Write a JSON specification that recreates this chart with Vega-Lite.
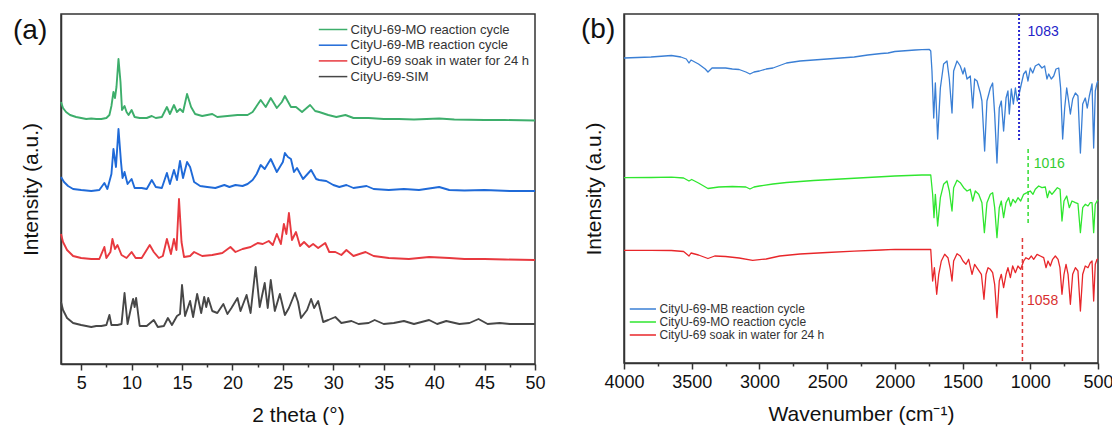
{
"$schema": "https://vega.github.io/schema/vega-lite/v6.json",
"padding": {"left": 12, "top": 12, "right": 5, "bottom": 0},
"spacing": 34,
"resolve": {"scale": {"color": "independent"}, "legend": {"color": "independent"}},
"config": {
  "font": "Liberation Sans",
  "view": {"stroke": "#333333", "strokeWidth": 1.5},
  "axis": {"domainColor": "#333333", "domainWidth": 1.5, "tickColor": "#333333", "tickWidth": 1.5, "labelColor": "#111111", "titleColor": "#111111", "labelFontSize": 18, "titleFontSize": 21, "titleFontWeight": "normal", "grid": false, "labelPadding": 4, "labelFlush": false, "labelOverlap": false},
  "legend": {"labelColor": "#333333", "padding": 0, "symbolStrokeWidth": 1.5, "title": null, "labelLimit": 400},
  "title": {"fontWeight": "normal", "fontSize": 28, "color": "#111111"}
},
"hconcat": [
{
  "width": 474, "height": 350,
  "title": {"text": "(a)", "anchor": "start", "frame": "group", "orient": "top", "baseline": "top", "offset": -28, "dx": -48, "dy": 3},
  "encoding": {
    "x": {"field": "t", "type": "quantitative", "scale": {"domain": [3, 50], "nice": false, "zero": false},
      "axis": {"title": "2 theta (°)", "titlePadding": 12, "values": [5,7.5,10,12.5,15,17.5,20,22.5,25,27.5,30,32.5,35,37.5,40,42.5,45,47.5,50],
        "labelExpr": "datum.value % 5 === 0 ? datum.label : ''",
        "tickSize": {"condition": {"test": "datum.value % 5 !== 0", "value": 3}, "value": 6}}},
    "y": {"field": "I", "type": "quantitative", "scale": {"domain": [0, 350], "nice": false, "zero": false},
      "axis": {"title": "Intensity (a.u.)", "labels": false, "ticks": false, "titlePadding": 20}}
  },
  "layer": [
    {"data": {"values": [{"t":3,"I":262},{"t":3.2,"I":256},{"t":3.5,"I":252},{"t":3.9,"I":249},{"t":4.5,"I":247},{"t":5,"I":246},{"t":5.5,"I":245},{"t":6,"I":245.5},{"t":6.5,"I":245},{"t":7,"I":245},{"t":7.5,"I":246},{"t":7.8,"I":249},{"t":8,"I":258},{"t":8.2,"I":272},{"t":8.35,"I":266},{"t":8.5,"I":277},{"t":8.7,"I":305},{"t":8.9,"I":282},{"t":9.05,"I":254},{"t":9.3,"I":258},{"t":9.5,"I":252},{"t":9.7,"I":249},{"t":10,"I":254},{"t":10.3,"I":247},{"t":10.8,"I":246},{"t":11.5,"I":246},{"t":12,"I":248},{"t":12.4,"I":246},{"t":13,"I":247},{"t":13.5,"I":257},{"t":13.8,"I":250},{"t":14.2,"I":259},{"t":14.5,"I":252},{"t":14.8,"I":255},{"t":15.1,"I":252},{"t":15.5,"I":270},{"t":15.9,"I":257},{"t":16.3,"I":250},{"t":17,"I":248},{"t":18,"I":250},{"t":18.5,"I":247},{"t":19.5,"I":248},{"t":20.5,"I":249},{"t":21.5,"I":249},{"t":22,"I":252},{"t":22.4,"I":258},{"t":22.8,"I":264},{"t":23.3,"I":257},{"t":23.8,"I":266},{"t":24.4,"I":256},{"t":24.9,"I":262},{"t":25.2,"I":268},{"t":25.8,"I":257},{"t":26.3,"I":257},{"t":26.9,"I":252},{"t":27.7,"I":259},{"t":28.2,"I":253},{"t":28.6,"I":252},{"t":29.5,"I":249},{"t":30.3,"I":247},{"t":31.2,"I":249},{"t":32,"I":246},{"t":33.5,"I":246},{"t":35,"I":245},{"t":36.5,"I":245},{"t":38,"I":244.5},{"t":40.5,"I":245.5},{"t":42,"I":244.5},{"t":45,"I":244},{"t":47,"I":244},{"t":50,"I":243.5}]},
     "mark": {"type": "line", "strokeWidth": 1.9, "strokeJoin": "round"},
     "encoding": {"color": {"datum": "CityU-69-MO reaction cycle", "type": "nominal",
        "scale": {"domain": ["CityU-69-MO reaction cycle", "CityU-69-MB reaction cycle", "CityU-69 soak in water for 24 h", "CityU-69-SIM"], "range": ["#3dae6b", "#1f6ad8", "#e8393f", "#474747"]},
        "legend": {"orient": "none", "legendX": 257, "legendY": 9, "labelFontSize": 13, "symbolType": "M-1,0H4", "symbolSize": 130, "labelOffset": 19.6, "rowPadding": 1.7}}}},
    {"data": {"values": [{"t":3,"I":187},{"t":3.3,"I":182},{"t":3.7,"I":178},{"t":4.2,"I":175},{"t":5,"I":174},{"t":6,"I":173},{"t":6.8,"I":174},{"t":7.3,"I":181},{"t":7.6,"I":175},{"t":8,"I":190},{"t":8.2,"I":215},{"t":8.45,"I":197},{"t":8.7,"I":235},{"t":8.95,"I":202},{"t":9.1,"I":186},{"t":9.3,"I":192},{"t":9.6,"I":180},{"t":10,"I":185},{"t":10.3,"I":176},{"t":11,"I":176},{"t":11.5,"I":175},{"t":12,"I":184},{"t":12.4,"I":177},{"t":13,"I":176},{"t":13.5,"I":191},{"t":13.8,"I":180},{"t":14.2,"I":194},{"t":14.5,"I":184},{"t":14.8,"I":203},{"t":15.1,"I":186},{"t":15.5,"I":202},{"t":15.8,"I":197},{"t":16.2,"I":182},{"t":16.8,"I":178},{"t":17.5,"I":177},{"t":18.3,"I":176},{"t":19.2,"I":179},{"t":19.7,"I":177},{"t":20.3,"I":179},{"t":21,"I":178},{"t":21.5,"I":180},{"t":22,"I":184},{"t":22.4,"I":190},{"t":22.8,"I":199},{"t":23.2,"I":195},{"t":23.8,"I":205},{"t":24.4,"I":192},{"t":25,"I":202},{"t":25.2,"I":211},{"t":25.5,"I":207},{"t":25.8,"I":205},{"t":26.1,"I":192},{"t":26.4,"I":196},{"t":27,"I":185},{"t":27.8,"I":194},{"t":28.3,"I":185},{"t":28.6,"I":184},{"t":29.3,"I":183},{"t":30,"I":179},{"t":30.6,"I":177},{"t":31.3,"I":179},{"t":32,"I":176},{"t":33.3,"I":178},{"t":34,"I":175},{"t":35.5,"I":174},{"t":37,"I":175},{"t":38.5,"I":174},{"t":40.5,"I":177},{"t":41.5,"I":174},{"t":43,"I":173.5},{"t":45,"I":174},{"t":47.5,"I":173},{"t":50,"I":173}]},
     "mark": {"type": "line", "strokeWidth": 1.9, "strokeJoin": "round"},
     "encoding": {"color": {"datum": "CityU-69-MB reaction cycle", "type": "nominal"}}},
    {"data": {"values": [{"t":3,"I":130},{"t":3.2,"I":122},{"t":3.6,"I":114},{"t":4.2,"I":108},{"t":5,"I":106},{"t":6,"I":105},{"t":6.8,"I":105},{"t":7.3,"I":117},{"t":7.5,"I":106},{"t":7.9,"I":112},{"t":8.1,"I":125},{"t":8.35,"I":115},{"t":8.6,"I":119},{"t":9,"I":109},{"t":9.5,"I":106},{"t":10,"I":112},{"t":10.4,"I":106},{"t":11,"I":106},{"t":11.8,"I":119},{"t":12.2,"I":112},{"t":12.7,"I":106},{"t":13.1,"I":108},{"t":13.5,"I":125},{"t":13.9,"I":110},{"t":14.2,"I":125},{"t":14.45,"I":114},{"t":14.7,"I":165},{"t":14.95,"I":122},{"t":15.2,"I":107},{"t":15.8,"I":108},{"t":16.2,"I":112},{"t":17,"I":108},{"t":18,"I":109},{"t":19,"I":111},{"t":19.8,"I":117},{"t":20.3,"I":112},{"t":21,"I":115},{"t":21.8,"I":117},{"t":22.5,"I":121},{"t":23,"I":120},{"t":23.6,"I":123},{"t":24,"I":119},{"t":24.4,"I":130},{"t":24.8,"I":120},{"t":25.1,"I":140},{"t":25.35,"I":130},{"t":25.6,"I":151},{"t":25.9,"I":124},{"t":26.3,"I":132},{"t":26.7,"I":118},{"t":27.1,"I":122},{"t":27.6,"I":117},{"t":28,"I":120},{"t":28.5,"I":116},{"t":29.2,"I":121},{"t":29.6,"I":112},{"t":30.2,"I":112},{"t":30.8,"I":109},{"t":31.3,"I":114},{"t":32,"I":108},{"t":33.2,"I":112},{"t":34,"I":108},{"t":35.5,"I":106},{"t":37.5,"I":105},{"t":39.5,"I":107},{"t":41.5,"I":106},{"t":43,"I":105},{"t":45,"I":105},{"t":47,"I":104.5},{"t":50,"I":104}]},
     "mark": {"type": "line", "strokeWidth": 1.9, "strokeJoin": "round"},
     "encoding": {"color": {"datum": "CityU-69 soak in water for 24 h", "type": "nominal"}}},
    {"data": {"values": [{"t":3,"I":62},{"t":3.2,"I":54},{"t":3.6,"I":46},{"t":4.2,"I":41},{"t":5,"I":39},{"t":5.5,"I":38},{"t":6,"I":37},{"t":6.5,"I":38},{"t":7,"I":38},{"t":7.5,"I":39},{"t":7.8,"I":49},{"t":8,"I":39},{"t":8.6,"I":39},{"t":9,"I":40},{"t":9.3,"I":71},{"t":9.6,"I":40},{"t":10,"I":59},{"t":10.15,"I":65},{"t":10.3,"I":57},{"t":10.45,"I":66},{"t":10.8,"I":38},{"t":11.5,"I":38},{"t":12.2,"I":44},{"t":12.6,"I":37},{"t":13.2,"I":38},{"t":13.6,"I":46},{"t":14,"I":39},{"t":14.5,"I":48},{"t":14.8,"I":50},{"t":15,"I":79},{"t":15.3,"I":48},{"t":15.8,"I":63},{"t":16.1,"I":47},{"t":16.5,"I":70},{"t":16.9,"I":51},{"t":17.2,"I":67},{"t":17.4,"I":57},{"t":17.6,"I":66},{"t":18,"I":53},{"t":18.5,"I":51},{"t":19.1,"I":60},{"t":19.5,"I":50},{"t":19.9,"I":56},{"t":20.5,"I":66},{"t":20.8,"I":53},{"t":21.4,"I":69},{"t":21.8,"I":51},{"t":22.3,"I":97},{"t":22.7,"I":57},{"t":23.2,"I":81},{"t":23.5,"I":56},{"t":23.8,"I":84},{"t":24.2,"I":53},{"t":24.7,"I":70},{"t":25.2,"I":49},{"t":25.6,"I":56},{"t":26.2,"I":71},{"t":26.5,"I":62},{"t":26.8,"I":46},{"t":27.4,"I":54},{"t":27.8,"I":65},{"t":28.1,"I":56},{"t":28.5,"I":63},{"t":29,"I":42},{"t":29.5,"I":44},{"t":30.2,"I":47},{"t":30.8,"I":41},{"t":31.8,"I":43},{"t":32.5,"I":40},{"t":33.5,"I":41},{"t":34.1,"I":44},{"t":35,"I":40},{"t":36,"I":41},{"t":37,"I":43},{"t":38,"I":40},{"t":39.5,"I":44},{"t":40.3,"I":40},{"t":41.2,"I":43},{"t":42.5,"I":40},{"t":43.5,"I":41},{"t":44.4,"I":45},{"t":45.3,"I":40},{"t":46.5,"I":41},{"t":47.5,"I":40},{"t":49,"I":40},{"t":50,"I":40}]},
     "mark": {"type": "line", "strokeWidth": 1.9, "strokeJoin": "round"},
     "encoding": {"color": {"datum": "CityU-69-SIM", "type": "nominal"}}}
  ]
},
{
  "width": 474, "height": 349,
  "title": {"text": "(b)", "anchor": "start", "frame": "group", "orient": "top", "baseline": "top", "offset": -28, "dx": -43, "dy": 3},
  "encoding": {
    "x": {"field": "w", "type": "quantitative", "scale": {"domain": [500, 4000], "nice": false, "zero": false, "reverse": true},
      "axis": {"title": "Wavenumber (cm⁻¹)", "titlePadding": 12, "format": "d", "values": [500,750,1000,1250,1500,1750,2000,2250,2500,2750,3000,3250,3500,3750,4000],
        "labelExpr": "datum.value % 500 === 0 ? datum.label : ''",
        "tickSize": {"condition": {"test": "datum.value % 500 !== 0", "value": 3}, "value": 6}}},
    "y": {"field": "I", "type": "quantitative", "scale": {"domain": [0, 349], "nice": false, "zero": false},
      "axis": {"title": "Intensity (a.u.)", "labels": false, "ticks": false, "titlePadding": 20}}
  },
  "layer": [
    {"data": {"values": [{"w":4000,"I":305},{"w":3900,"I":305.5},{"w":3800,"I":306},{"w":3700,"I":307},{"w":3650,"I":307.5},{"w":3580,"I":306},{"w":3540,"I":304},{"w":3520,"I":300},{"w":3505,"I":303},{"w":3450,"I":299},{"w":3400,"I":294},{"w":3380,"I":291},{"w":3350,"I":295},{"w":3300,"I":295},{"w":3250,"I":295},{"w":3200,"I":294},{"w":3150,"I":293.5},{"w":3100,"I":291},{"w":3070,"I":289},{"w":3040,"I":291},{"w":3000,"I":292},{"w":2950,"I":294},{"w":2900,"I":295},{"w":2800,"I":300},{"w":2700,"I":302},{"w":2600,"I":303},{"w":2500,"I":304},{"w":2400,"I":305},{"w":2300,"I":306},{"w":2200,"I":308},{"w":2100,"I":309.5},{"w":2050,"I":310},{"w":2000,"I":311.5},{"w":1950,"I":312},{"w":1900,"I":312.5},{"w":1850,"I":313},{"w":1800,"I":313.3},{"w":1745,"I":313.5},{"w":1735,"I":312},{"w":1726,"I":292},{"w":1713,"I":245},{"w":1701,"I":280},{"w":1684,"I":224},{"w":1664,"I":275},{"w":1640,"I":299},{"w":1615,"I":302},{"w":1598,"I":284},{"w":1578,"I":250},{"w":1566,"I":292},{"w":1541,"I":302},{"w":1517,"I":297},{"w":1497,"I":289},{"w":1485,"I":295},{"w":1467,"I":284},{"w":1443,"I":287},{"w":1425,"I":255},{"w":1411,"I":284},{"w":1393,"I":282},{"w":1369,"I":270},{"w":1357,"I":262},{"w":1337,"I":212},{"w":1320,"I":262},{"w":1295,"I":275},{"w":1278,"I":280},{"w":1263,"I":249},{"w":1246,"I":200},{"w":1229,"I":255},{"w":1214,"I":262},{"w":1197,"I":232},{"w":1179,"I":265},{"w":1165,"I":272},{"w":1155,"I":249},{"w":1140,"I":274},{"w":1125,"I":259},{"w":1110,"I":275},{"w":1096,"I":262},{"w":1081,"I":270},{"w":1066,"I":279},{"w":1049,"I":289},{"w":1032,"I":292},{"w":1017,"I":282},{"w":1000,"I":295},{"w":982,"I":290},{"w":963,"I":297},{"w":938,"I":299},{"w":914,"I":295},{"w":894,"I":297},{"w":877,"I":284},{"w":864,"I":289},{"w":845,"I":284},{"w":827,"I":287},{"w":810,"I":294},{"w":790,"I":295},{"w":776,"I":275},{"w":761,"I":224},{"w":746,"I":255},{"w":731,"I":275},{"w":717,"I":262},{"w":704,"I":249},{"w":687,"I":264},{"w":667,"I":270},{"w":648,"I":267},{"w":630,"I":210},{"w":613,"I":259},{"w":594,"I":265},{"w":579,"I":255},{"w":564,"I":267},{"w":544,"I":279},{"w":532,"I":215},{"w":520,"I":272},{"w":507,"I":280},{"w":500,"I":282}]},
     "mark": {"type": "line", "strokeWidth": 1.3, "strokeJoin": "round"},
     "encoding": {"color": {"datum": "CityU-69-MB reaction cycle", "type": "nominal",
        "scale": {"domain": ["CityU-69-MB reaction cycle", "CityU-69-MO reaction cycle", "CityU-69 soak in water for 24 h"], "range": ["#3a7fd5", "#2fe62f", "#e8262a"]},
        "legend": {"orient": "none", "legendX": 5, "legendY": 289, "labelFontSize": 12, "symbolType": "M-1,0H4", "symbolSize": 110, "labelOffset": 18.5, "rowPadding": 1}}}},
    {"data": {"values": [{"w":4000,"I":185.3},{"w":3800,"I":185.5},{"w":3650,"I":185.8},{"w":3560,"I":185},{"w":3520,"I":182},{"w":3500,"I":183.5},{"w":3450,"I":180},{"w":3380,"I":174.5},{"w":3300,"I":176},{"w":3200,"I":176.5},{"w":3100,"I":176},{"w":3070,"I":174},{"w":3040,"I":176},{"w":3000,"I":177},{"w":2900,"I":179},{"w":2800,"I":180.5},{"w":2600,"I":182.5},{"w":2400,"I":184},{"w":2200,"I":185.5},{"w":2000,"I":187},{"w":1900,"I":187.5},{"w":1800,"I":188},{"w":1735,"I":188},{"w":1721,"I":168.7},{"w":1711,"I":145.3},{"w":1701,"I":168.7},{"w":1684,"I":137},{"w":1664,"I":165.3},{"w":1640,"I":178.7},{"w":1615,"I":182},{"w":1598,"I":172},{"w":1578,"I":152},{"w":1566,"I":175.3},{"w":1541,"I":182.7},{"w":1517,"I":180.3},{"w":1492,"I":175.3},{"w":1467,"I":172},{"w":1443,"I":173.7},{"w":1425,"I":162},{"w":1406,"I":172},{"w":1381,"I":168.7},{"w":1357,"I":160.3},{"w":1339,"I":130.3},{"w":1320,"I":160.3},{"w":1295,"I":168.7},{"w":1278,"I":170.3},{"w":1263,"I":155.3},{"w":1246,"I":125.3},{"w":1229,"I":155.3},{"w":1214,"I":162},{"w":1197,"I":145.3},{"w":1179,"I":160.3},{"w":1160,"I":165.3},{"w":1145,"I":157},{"w":1128,"I":163.7},{"w":1110,"I":160.3},{"w":1091,"I":165.3},{"w":1071,"I":162},{"w":1049,"I":168.7},{"w":1024,"I":170.3},{"w":1000,"I":172},{"w":980,"I":168.7},{"w":963,"I":173.7},{"w":938,"I":177},{"w":914,"I":175.3},{"w":889,"I":176},{"w":874,"I":165.3},{"w":859,"I":172},{"w":840,"I":168.7},{"w":820,"I":172},{"w":800,"I":175.3},{"w":780,"I":173.7},{"w":766,"I":142},{"w":751,"I":162},{"w":731,"I":167},{"w":712,"I":155.3},{"w":692,"I":162},{"w":667,"I":160.3},{"w":648,"I":159.3},{"w":630,"I":130.3},{"w":613,"I":155.3},{"w":594,"I":158.7},{"w":574,"I":157},{"w":557,"I":160.3},{"w":544,"I":160.3},{"w":532,"I":130.3},{"w":520,"I":158.7},{"w":507,"I":162},{"w":500,"I":163}]},
     "mark": {"type": "line", "strokeWidth": 1.3, "strokeJoin": "round"},
     "encoding": {"color": {"datum": "CityU-69-MO reaction cycle", "type": "nominal"}}},
    {"data": {"values": [{"w":4000,"I":112.7},{"w":3800,"I":112.7},{"w":3650,"I":112.5},{"w":3560,"I":111.5},{"w":3520,"I":107},{"w":3505,"I":110},{"w":3450,"I":108},{"w":3380,"I":104.5},{"w":3330,"I":107},{"w":3250,"I":106.5},{"w":3150,"I":105},{"w":3050,"I":102.7},{"w":2950,"I":104},{"w":2850,"I":107},{"w":2700,"I":109},{"w":2500,"I":110.5},{"w":2300,"I":111.8},{"w":2100,"I":113},{"w":2000,"I":113.7},{"w":1900,"I":113.5},{"w":1800,"I":113.5},{"w":1735,"I":113.5},{"w":1721,"I":82},{"w":1708,"I":95.3},{"w":1691,"I":68.7},{"w":1676,"I":88.7},{"w":1657,"I":102},{"w":1632,"I":108.7},{"w":1608,"I":105.3},{"w":1590,"I":93.7},{"w":1578,"I":82},{"w":1566,"I":102},{"w":1541,"I":109.3},{"w":1517,"I":107},{"w":1497,"I":102},{"w":1475,"I":98.7},{"w":1455,"I":103.7},{"w":1430,"I":88.7},{"w":1411,"I":98.7},{"w":1386,"I":93.7},{"w":1361,"I":88.7},{"w":1342,"I":63.7},{"w":1327,"I":88.7},{"w":1312,"I":95.3},{"w":1295,"I":93.7},{"w":1278,"I":90.3},{"w":1263,"I":78.7},{"w":1246,"I":45.3},{"w":1229,"I":82},{"w":1214,"I":88.7},{"w":1197,"I":75.3},{"w":1179,"I":88.7},{"w":1165,"I":95.3},{"w":1147,"I":85.3},{"w":1130,"I":97},{"w":1110,"I":90.3},{"w":1091,"I":97},{"w":1071,"I":93.7},{"w":1049,"I":102},{"w":1032,"I":105.3},{"w":1012,"I":103.7},{"w":992,"I":107},{"w":975,"I":103.7},{"w":950,"I":108.7},{"w":926,"I":107},{"w":901,"I":105.3},{"w":884,"I":95.3},{"w":869,"I":102},{"w":852,"I":97},{"w":835,"I":103.7},{"w":815,"I":107},{"w":795,"I":103.7},{"w":781,"I":95.3},{"w":766,"I":68.7},{"w":751,"I":88.7},{"w":736,"I":98.7},{"w":721,"I":88.7},{"w":704,"I":58.7},{"w":687,"I":88.7},{"w":667,"I":95.3},{"w":648,"I":92},{"w":630,"I":52},{"w":613,"I":88.7},{"w":594,"I":97},{"w":574,"I":95.3},{"w":557,"I":100.3},{"w":544,"I":102},{"w":532,"I":62},{"w":520,"I":98.7},{"w":507,"I":103.7},{"w":500,"I":104}]},
     "mark": {"type": "line", "strokeWidth": 1.3, "strokeJoin": "round"},
     "encoding": {"color": {"datum": "CityU-69 soak in water for 24 h", "type": "nominal"}}},
    {"data": {"values": [{"w":1083,"I":349,"I2":222}]},
     "mark": {"type": "rule", "color": "#2b2bd0", "strokeWidth": 2, "strokeDash": [2, 2]},
     "encoding": {"y2": {"field": "I2"}}},
    {"data": {"values": [{"w":1016,"I":214,"I2":139}]},
     "mark": {"type": "rule", "color": "#33dd33", "strokeWidth": 1.5, "strokeDash": [4, 3]},
     "encoding": {"y2": {"field": "I2"}}},
    {"data": {"values": [{"w":1058,"I":125,"I2":0}]},
     "mark": {"type": "rule", "color": "#e03a3a", "strokeWidth": 1.5, "strokeDash": [4, 3]},
     "encoding": {"y2": {"field": "I2"}}},
    {"data": {"values": [{"w":1020,"I":331,"label":"1083"}]},
     "mark": {"type": "text", "align": "left", "baseline": "middle", "fontSize": 14, "color": "#2424c8"},
     "encoding": {"text": {"field": "label"}}},
    {"data": {"values": [{"w":975,"I":199,"label":"1016"}]},
     "mark": {"type": "text", "align": "left", "baseline": "middle", "fontSize": 14, "color": "#33cc33"},
     "encoding": {"text": {"field": "label"}}},
    {"data": {"values": [{"w":1024,"I":62,"label":"1058"}]},
     "mark": {"type": "text", "align": "left", "baseline": "middle", "fontSize": 14, "color": "#d83030"},
     "encoding": {"text": {"field": "label"}}}
  ]
}
]
}
